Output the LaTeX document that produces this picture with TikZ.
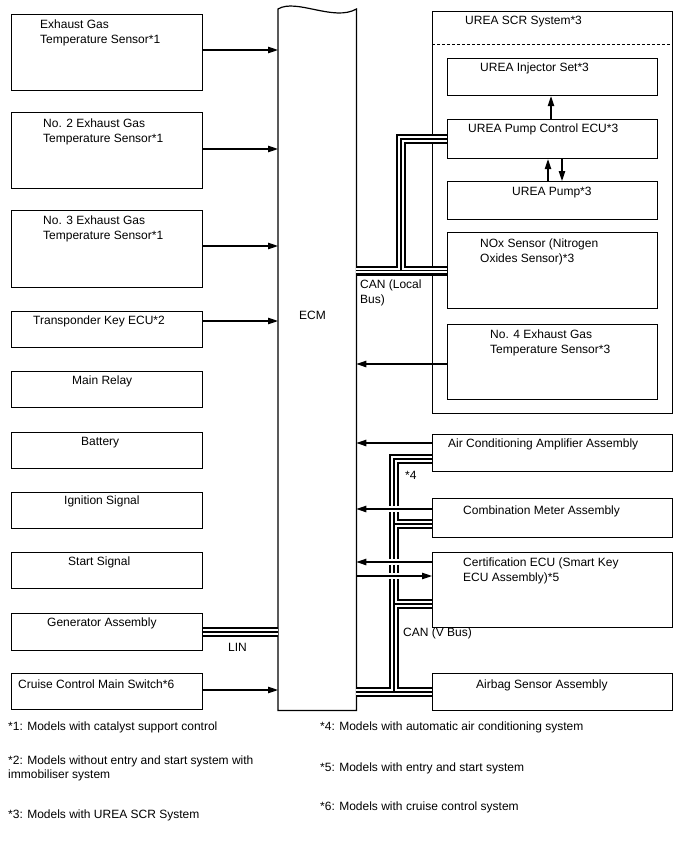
\documentclass[tikz,border=0pt]{standalone}
\usepackage{fontspec}
\setmainfont{Liberation Sans}
\usetikzlibrary{arrows.meta}
\tikzset{
  box/.style={draw, line width=1.2pt, inner sep=0pt, anchor=north west},
  lbl/.style={inner sep=0pt, anchor=base west, font=\fontsize{12}{14}\selectfont},
  arr/.style={line width=1.1pt, -{Triangle[length=10pt,width=6.5pt]}},
  harr/.style={arr, preaction={draw=white, line width=6pt, -, shorten <=4pt, shorten >=4pt}},
  cabA/.style={line width=10pt, black},
  cabB/.style={line width=5.6pt, white},
  cabC/.style={line width=1.6pt, black},
}
\newcommand\mybox[5]{\node[box, minimum width=#4pt, minimum height=#5pt] (#1) at (#2,#3) {};}
\newcommand\mylbl[4]{\node[lbl] (#1) at (#2,#3) {#4};}
\newcommand\cablepaths[1]{%
  \draw[#1] (nox.west -| ECM.east) -- (nox.west);
  \draw[#1] (j1) |- (pecu.west);
  \draw[#1] (vtop -| ac.west) -- (vtop) -- (vbot);
  \draw[#1] (vbot -| ECM.east) -- (vbot -| airbag.west);
  \draw[#1] (v1) -- (v1 -| cm.west);
  \draw[#1] (v2) -- (v2 -| cert.west);
  \draw[#1] (gen.east) -- (gen.east -| ECM.west);
}
\begin{document}
\begin{tikzpicture}[x=1pt,y=-1pt]
\useasboundingbox (0,0) rectangle (688,852);

% left boxes
\mybox{s1}{11}{14}{191}{76}
\mybox{s2}{11}{112}{191}{76}
\mybox{s3}{11}{210}{191}{77}
\mybox{s4}{11}{311}{191}{36}
\mybox{s5}{11}{371}{191}{36}
\mybox{s6}{11}{432}{191}{36}
\mybox{s7}{11}{492}{191}{36}
\mybox{s8}{11}{552}{191}{36}
\mybox{gen}{11}{613}{191}{37}
\mybox{s10}{11}{673}{191}{36}

% ECM
\node[inner sep=0pt, anchor=north west, minimum width=78pt, minimum height=701pt] (ECM) at (278,9) {};
\draw[line width=1.2pt] (ECM.north west) .. controls (296,-2) and (334,22) .. (ECM.north east)
  -- (ECM.south east) -- (ECM.south west) -- cycle;

% right side
\mybox{scr}{432}{11}{240}{402}
\draw[line width=1pt, dash pattern=on 3pt off 2pt] (scr.west |- 0,44) -- (scr.east |- 0,44);
\mybox{inj}{447}{58}{210}{37}
\mybox{pecu}{447}{119}{210}{39}
\mybox{pump}{447}{181}{210}{38}
\mybox{nox}{447}{232}{210}{76}
\mybox{n4}{447}{324}{210}{75}
\mybox{ac}{432}{434}{240}{37}
\mybox{cm}{432}{498}{240}{39}
\mybox{cert}{432}{552}{240}{75}
\mybox{airbag}{432}{673}{240}{37}

% coordinates
\coordinate (j1) at (401,271);
\coordinate (vtop) at (394,459);
\coordinate (vbot) at (394,692);
\coordinate (v1) at (394,524);
\coordinate (v2) at (394,604);
\coordinate (xa) at (551,0);
\coordinate (xb) at (548,0);
\coordinate (xc) at (562,0);

% cables
\cablepaths{cabA}
\cablepaths{cabB}
\cablepaths{cabC}

% arrows left
\draw[arr] (s1.east |- 0,50) -- (ECM.west |- 0,50);
\draw[arr] (s2.east |- 0,149) -- (ECM.west |- 0,149);
\draw[arr] (s3.east |- 0,246) -- (ECM.west |- 0,246);
\draw[arr] (s4.east |- 0,321) -- (ECM.west |- 0,321);
\draw[arr] (s10.east |- 0,690) -- (ECM.west |- 0,690);

% arrows right
\draw[arr] (n4.west |- 0,364) -- (ECM.east |- 0,364);
\draw[arr] (ac.west |- 0,443) -- (ECM.east |- 0,443);
\draw[harr] (cm.west |- 0,509) -- (ECM.east |- 0,509);
\draw[harr] (cert.west |- 0,562) -- (ECM.east |- 0,562);
\draw[harr] (ECM.east |- 0,576) -- (cert.west |- 0,576);

% SCR internal arrows
\draw[arr] (pecu.north -| xa) -- (inj.south -| xa);
\draw[arr] (pump.north -| xb) -- (pecu.south -| xb);
\draw[arr] (pecu.south -| xc) -- (pump.north -| xc);

% labels
\mylbl{t1a}{40}{28.5}{Exhaust Gas}
\mylbl{t1b}{40}{43.5}{Temperature Sensor*1}
\mylbl{t2a}{43}{127}{No. 2 Exhaust Gas}
\mylbl{t2b}{43}{142}{Temperature Sensor*1}
\mylbl{t3a}{43}{224}{No. 3 Exhaust Gas}
\mylbl{t3b}{43}{239}{Temperature Sensor*1}
\mylbl{t4}{33}{324}{Transponder Key ECU*2}
\mylbl{t5}{72}{384}{Main Relay}
\mylbl{t6}{81}{445}{Battery}
\mylbl{t7}{64}{504}{Ignition Signal}
\mylbl{t8}{68}{565}{Start Signal}
\mylbl{t9}{47}{626}{Generator Assembly}
\mylbl{t10}{18}{688}{Cruise Control Main Switch*6}
\mylbl{tecm}{299}{319}{ECM}
\mylbl{tscr}{465}{24}{UREA SCR System*3}
\mylbl{tinj}{480}{71}{UREA Injector Set*3}
\mylbl{tpecu}{468}{132}{UREA Pump Control ECU*3}
\mylbl{tpump}{512}{195}{UREA Pump*3}
\mylbl{tnoxa}{480}{247}{NOx Sensor (Nitrogen}
\mylbl{tnoxb}{480}{262}{Oxides Sensor)*3}
\mylbl{tn4a}{490}{338}{No. 4 Exhaust Gas}
\mylbl{tn4b}{490}{353}{Temperature Sensor*3}
\mylbl{tac}{448}{447}{Air Conditioning Amplifier Assembly}
\mylbl{tcm}{463}{514}{Combination Meter Assembly}
\mylbl{tcerta}{463}{566}{Certification ECU (Smart Key}
\mylbl{tcertb}{463}{581}{ECU Assembly)*5}
\mylbl{tair}{476}{688}{Airbag Sensor Assembly}
\mylbl{tcana}{360}{288}{CAN (Local}
\mylbl{tcanb}{360}{303}{Bus)}
\mylbl{tst4}{405}{479}{*4}
\mylbl{tcanv}{403}{636}{CAN (V Bus)}
\mylbl{tlin}{228}{651}{LIN}

% footnotes
\mylbl{f1}{8}{730}{*1: Models with catalyst support control}
\mylbl{f2a}{8}{764}{*2: Models without entry and start system with}
\mylbl{f2b}{8}{778}{immobiliser system}
\mylbl{f3}{8}{818}{*3: Models with UREA SCR System}
\mylbl{f4}{320}{730}{*4: Models with automatic air conditioning system}
\mylbl{f5}{320}{771}{*5: Models with entry and start system}
\mylbl{f6}{320}{810}{*6: Models with cruise control system}
\end{tikzpicture}
\end{document}
